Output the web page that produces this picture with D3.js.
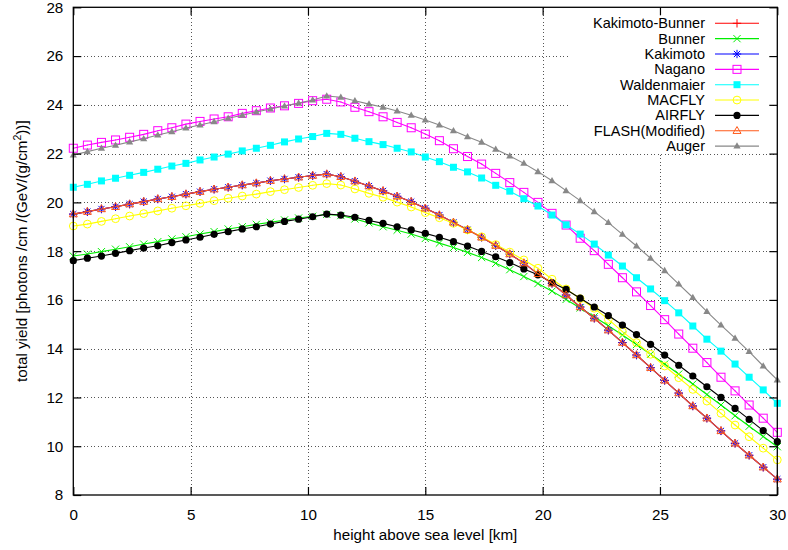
<!DOCTYPE html>
<html>
<head>
<meta charset="utf-8">
<script src="https://cdn.jsdelivr.net/npm/d3@7"></script>
<style>
  body { margin: 0; background: #fff; }
  svg { display: block; font-family: "Liberation Sans", Arial, Helvetica, sans-serif; }
</style>
</head>
<body>
<svg id="chart" width="788" height="550"></svg>
<script>
// Height above sea level [km]
const heights = [0, 0.6, 1.2, 1.8, 2.4, 3, 3.6, 4.2, 4.8, 5.4, 6, 6.6, 7.2, 7.8, 8.4, 9, 9.6, 10.2, 10.8, 11.4,
  12, 12.6, 13.2, 13.8, 14.4, 15, 15.6, 16.2, 16.8, 17.4, 18, 18.6, 19.2, 19.8, 20.4, 21, 21.6, 22.2, 22.8, 23.4,
  24, 24.6, 25.2, 25.8, 26.4, 27, 27.6, 28.2, 28.8, 29.4, 30];

// Total yield [photons/cm/(GeV/(g/cm^2))] for each fluorescence model
const kakimotoBunner = [19.52, 19.62, 19.73, 19.82, 19.93, 20.03, 20.14, 20.23, 20.34, 20.44, 20.54, 20.62, 20.71, 20.79, 20.89, 20.96, 21.03, 21.10, 21.16, 21.05,
  20.87, 20.67, 20.47, 20.25, 20.03, 19.76, 19.48, 19.18, 18.88, 18.57, 18.23, 17.88, 17.51, 17.07, 16.68, 16.20, 15.71, 15.25, 14.76, 14.25,
  13.74, 13.22, 12.70, 12.18, 11.65, 11.15, 10.63, 10.12, 9.63, 9.14, 8.65];
const bunner = [17.80, 17.88, 17.98, 18.08, 18.18, 18.29, 18.39, 18.50, 18.59, 18.70, 18.80, 18.91, 19.00, 19.10, 19.18, 19.28, 19.36, 19.43, 19.51, 19.46,
  19.32, 19.16, 19.00, 18.86, 18.70, 18.52, 18.33, 18.15, 17.95, 17.74, 17.50, 17.24, 16.96, 16.67, 16.36, 16.02, 15.67, 15.31, 14.94, 14.56,
  14.17, 13.77, 13.37, 12.96, 12.55, 12.12, 11.69, 11.25, 10.82, 10.40, 9.98];
const kakimoto = [19.52, 19.62, 19.73, 19.82, 19.93, 20.03, 20.14, 20.23, 20.34, 20.44, 20.54, 20.62, 20.71, 20.79, 20.89, 20.96, 21.03, 21.10, 21.16, 21.05,
  20.87, 20.67, 20.47, 20.25, 20.03, 19.76, 19.48, 19.18, 18.88, 18.57, 18.23, 17.88, 17.51, 17.07, 16.68, 16.20, 15.71, 15.25, 14.76, 14.25,
  13.74, 13.22, 12.70, 12.18, 11.65, 11.15, 10.63, 10.12, 9.63, 9.14, 8.65];
const nagano = [22.22, 22.35, 22.46, 22.56, 22.67, 22.79, 22.94, 23.06, 23.21, 23.32, 23.42, 23.51, 23.65, 23.76, 23.87, 23.96, 24.06, 24.17, 24.23, 24.12,
  23.90, 23.72, 23.51, 23.28, 23.06, 22.80, 22.53, 22.20, 21.88, 21.57, 21.19, 20.81, 20.41, 20.00, 19.55, 19.07, 18.53, 18.02, 17.46, 16.91,
  16.33, 15.77, 15.19, 14.60, 14.02, 13.43, 12.83, 12.27, 11.69, 11.15, 10.57];
const waldenmaier = [20.62, 20.74, 20.88, 20.99, 21.11, 21.23, 21.36, 21.49, 21.60, 21.74, 21.86, 21.98, 22.11, 22.22, 22.34, 22.48, 22.60, 22.70, 22.83, 22.79,
  22.63, 22.49, 22.37, 22.22, 22.07, 21.86, 21.67, 21.44, 21.25, 21.00, 20.70, 20.46, 20.15, 19.85, 19.48, 19.08, 18.70, 18.29, 17.84, 17.39,
  16.91, 16.45, 15.97, 15.47, 14.93, 14.39, 13.90, 13.37, 12.83, 12.31, 11.76];
const macfly = [19.03, 19.11, 19.22, 19.33, 19.44, 19.54, 19.65, 19.76, 19.86, 19.96, 20.07, 20.17, 20.26, 20.34, 20.44, 20.52, 20.61, 20.70, 20.77, 20.71,
  20.55, 20.37, 20.21, 20.01, 19.81, 19.58, 19.37, 19.14, 18.87, 18.59, 18.27, 17.96, 17.64, 17.30, 16.85, 16.45, 16.05, 15.66, 15.20, 14.70,
  14.25, 13.77, 13.29, 12.81, 12.33, 11.85, 11.35, 10.87, 10.39, 9.92, 9.44];
const airfly = [17.61, 17.71, 17.80, 17.91, 18.02, 18.13, 18.22, 18.35, 18.46, 18.57, 18.69, 18.80, 18.91, 19.00, 19.11, 19.22, 19.31, 19.41, 19.52, 19.48,
  19.39, 19.26, 19.14, 19.00, 18.87, 18.73, 18.57, 18.39, 18.21, 17.99, 17.77, 17.53, 17.27, 17.03, 16.71, 16.43, 16.07, 15.71, 15.36, 14.97,
  14.58, 14.18, 13.74, 13.32, 12.88, 12.44, 12.00, 11.55, 11.10, 10.64, 10.19];
const flashModified = [19.52, 19.62, 19.73, 19.82, 19.93, 20.03, 20.14, 20.23, 20.34, 20.44, 20.54, 20.62, 20.71, 20.79, 20.89, 20.96, 21.03, 21.10, 21.16, 21.05,
  20.87, 20.67, 20.47, 20.25, 20.03, 19.76, 19.48, 19.18, 18.88, 18.57, 18.23, 17.88, 17.51, 17.07, 16.68, 16.20, 15.71, 15.25, 14.76, 14.25,
  13.74, 13.22, 12.70, 12.18, 11.65, 11.15, 10.63, 10.12, 9.63, 9.14, 8.65];
const auger = [21.94, 22.08, 22.22, 22.34, 22.48, 22.61, 22.76, 22.90, 23.05, 23.17, 23.31, 23.45, 23.57, 23.71, 23.83, 23.95, 24.07, 24.20, 24.36, 24.31,
  24.17, 24.03, 23.90, 23.75, 23.57, 23.38, 23.17, 22.94, 22.69, 22.47, 22.18, 21.90, 21.60, 21.26, 20.89, 20.48, 20.07, 19.62, 19.17, 18.69,
  18.21, 17.71, 17.20, 16.65, 16.10, 15.52, 14.97, 14.43, 13.88, 13.29, 12.72];

const seriesNames = ["Kakimoto-Bunner", "Bunner", "Kakimoto", "Nagano", "Waldenmaier", "MACFLY", "AIRFLY", "FLASH(Modified)", "Auger"];
const xTicks = [0, 5, 10, 15, 20, 25, 30];
const yTicks = [8, 10, 12, 14, 16, 18, 20, 22, 24, 26, 28];

const series = [
  { name: seriesNames[0], values: kakimotoBunner, color: "#ff0000", marker: "plus" },
  { name: seriesNames[1], values: bunner, color: "#00ee00", marker: "cross" },
  { name: seriesNames[2], values: kakimoto, color: "#0000ff", marker: "star" },
  { name: seriesNames[3], values: nagano, color: "#ff00ff", marker: "openSquare" },
  { name: seriesNames[4], values: waldenmaier, color: "#00ffff", marker: "filledSquare" },
  { name: seriesNames[5], values: macfly, color: "#ffff00", marker: "openCircle" },
  { name: seriesNames[6], values: airfly, color: "#000000", marker: "filledCircle" },
  { name: seriesNames[7], values: flashModified, color: "#ff5a1a", marker: "openTriangle" },
  { name: seriesNames[8], values: auger, color: "#888888", marker: "filledTriangle" }
];

const fontSize = 15.2;
const keyFontSize = 14.5;
const svg = d3.select("#chart");
const X0 = 73.3, X1 = 777.3, Y0 = 495, Y1 = 7.3;
const x = d3.scaleLinear().domain([0, 30]).range([X0, X1]);
const y = d3.scaleLinear().domain([8, 28]).range([Y0, Y1]);

// Dotted grid
const grid = svg.append("g").attr("stroke", "#555").attr("stroke-width", 1)
  .attr("stroke-dasharray", "1,2.5").attr("shape-rendering", "crispEdges");
grid.selectAll("line.gx").data(xTicks.slice(1, -1)).join("line")
  .attr("x1", d => Math.round(x(d)) + 0.5).attr("x2", d => Math.round(x(d)) + 0.5)
  .attr("y1", Y0).attr("y2", Y1);
grid.selectAll("line.gy").data(yTicks.slice(1, -1)).join("line")
  .attr("x1", X0).attr("x2", X1)
  .attr("y1", d => Math.round(y(d)) + 0.5).attr("y2", d => Math.round(y(d)) + 0.5);

// Opaque key background
const keyRight = 705, keyTop = 23.3, keyStep = 15.35;
svg.append("rect").attr("x", 568).attr("y", 9).attr("width", 204).attr("height", 143).attr("fill", "#fff");

function drawMarker(g, type, color) {
  switch (type) {
    case "plus":
      g.append("path").attr("d", "M-4.2,0H4.2M0,-4.2V4.2").attr("stroke", color).attr("fill", "none");
      break;
    case "cross":
      g.append("path").attr("d", "M-3.6,-3.6L3.6,3.6M-3.6,3.6L3.6,-3.6").attr("stroke", color).attr("fill", "none");
      break;
    case "star":
      g.append("path").attr("d", "M-4.2,0H4.2M0,-4.2V4.2M-3.1,-3.1L3.1,3.1M-3.1,3.1L3.1,-3.1").attr("stroke", color).attr("fill", "none");
      break;
    case "openSquare":
      g.append("rect").attr("x", -4).attr("y", -4).attr("width", 8).attr("height", 8)
        .attr("stroke", color).attr("fill", "none");
      g.append("rect").attr("x", -0.5).attr("y", -0.5).attr("width", 1).attr("height", 1).attr("fill", color);
      break;
    case "filledSquare":
      g.append("rect").attr("x", -3.5).attr("y", -3.5).attr("width", 7).attr("height", 7).attr("fill", color);
      break;
    case "openCircle":
      g.append("circle").attr("r", 3.9).attr("stroke", color).attr("fill", "none");
      g.append("rect").attr("x", -0.5).attr("y", -0.5).attr("width", 1).attr("height", 1).attr("fill", color);
      break;
    case "filledCircle":
      g.append("circle").attr("r", 3.6).attr("fill", color);
      break;
    case "openTriangle":
      g.append("path").attr("d", "M0,-4.2L4,2.7L-4,2.7Z").attr("stroke", color).attr("fill", "none");
      g.append("rect").attr("x", -0.5).attr("y", -0.5).attr("width", 1).attr("height", 1).attr("fill", color);
      break;
    case "filledTriangle":
      g.append("path").attr("d", "M0,-3.8L3.6,2.5L-3.6,2.5Z").attr("fill", color);
      break;
  }
}

const line = d3.line().x((d, i) => x(heights[i])).y(d => y(d));

// Curves with point markers
const plots = svg.append("g");
series.forEach(s => {
  const g = plots.append("g");
  g.append("path").datum(s.values).attr("d", line)
    .attr("fill", "none").attr("stroke", s.color).attr("stroke-width", 1.1);
  g.selectAll("g.pt").data(s.values).join("g")
    .attr("transform", (d, i) => `translate(${x(heights[i])},${y(d)})`)
    .each(function () { drawMarker(d3.select(this), s.marker, s.color); });
});

// Key entries
const key = svg.append("g").attr("font-size", keyFontSize);
series.forEach((s, i) => {
  const cy = keyTop + i * keyStep;
  key.append("text").attr("x", keyRight).attr("y", cy).attr("dy", "0.35em")
    .attr("text-anchor", "end").attr("fill", "#000").text(s.name);
  key.append("line").attr("x1", 715).attr("x2", 759).attr("y1", cy).attr("y2", cy)
    .attr("stroke", s.color).attr("stroke-width", 1.1);
  const m = key.append("g").attr("transform", `translate(737,${cy})`);
  drawMarker(m, s.marker, s.color);
});

// Axes with inward ticks on all four sides
const tickLen = 8;
const axes = svg.append("g");
const axisLeftG = axes.append("g").attr("transform", `translate(${X0},0)`)
  .call(d3.axisLeft(y).tickValues(yTicks).tickSize(-tickLen).tickPadding(10));
const axisBottomG = axes.append("g").attr("transform", `translate(0,${Y0})`)
  .call(d3.axisBottom(x).tickValues(xTicks).tickSize(-tickLen).tickPadding(14));
const axisRightG = axes.append("g").attr("transform", `translate(${X1},0)`)
  .call(d3.axisRight(y).tickValues(yTicks).tickSize(-tickLen).tickFormat(""));
const axisTopG = axes.append("g").attr("transform", `translate(0,${Y1})`)
  .call(d3.axisTop(x).tickValues(xTicks).tickSize(-tickLen).tickFormat(""));
axes.selectAll(".domain").remove();
[axisLeftG, axisBottomG, axisRightG, axisTopG].forEach(a =>
  a.attr("font-family", null).attr("font-size", fontSize));
axes.selectAll(".tick line").attr("stroke", "#000").attr("stroke-width", 1.2);
axes.selectAll(".tick text").attr("fill", "#000");

// Frame
svg.append("rect").attr("x", X0).attr("y", Y1).attr("width", X1 - X0).attr("height", Y0 - Y1)
  .attr("fill", "none").attr("stroke", "#000").attr("stroke-width", 1.3);

// Axis titles
svg.append("text").attr("x", (X0 + X1) / 2).attr("y", 540).attr("text-anchor", "middle")
  .attr("font-size", fontSize).attr("fill", "#000").text("height above sea level [km]");

const yt = svg.append("text").attr("transform", `translate(27,${(Y0 + Y1) / 2}) rotate(-90)`)
  .attr("text-anchor", "middle").attr("font-size", fontSize).attr("fill", "#000");
yt.append("tspan").text("total yield [photons /cm /(GeV/(g/cm");
yt.append("tspan").attr("dy", -6).attr("font-size", 10.5).text("2");
yt.append("tspan").attr("dy", 6).text("))]");
</script>
</body>
</html>
